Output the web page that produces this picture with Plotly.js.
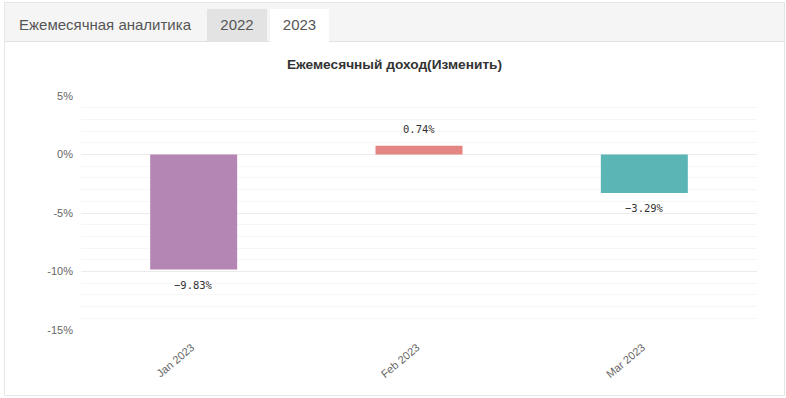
<!DOCTYPE html>
<html><head><meta charset="utf-8">
<script src="https://cdn.plot.ly/plotly-3.0.1.min.js"></script>
<style>
html,body{margin:0;padding:0;background:#fff;width:786px;height:398px;overflow:hidden;font-family:"Liberation Sans",Arial,sans-serif;}
#frame{position:absolute;left:4px;top:2px;width:779px;height:392px;border:1px solid #e6e6e6;}
#tabs{position:absolute;left:0;top:0;width:779px;height:38px;background:#f5f5f5;border-bottom:1px solid #e2e2e2;}
.tab{position:absolute;top:6px;height:32px;line-height:32px;font-size:15px;color:#555;text-align:center;}
#t1{left:2px;width:196px;}
#t2{left:202px;width:60px;background:#e3e3e3;}
#t3{left:265px;width:59px;background:#fff;height:33px;}
#chart{position:absolute;left:1px;top:40px;width:777px;height:351px;}
</style></head>
<body>
<div id="frame">
 <div id="tabs">
  <div class="tab" id="t1">Ежемесячная аналитика</div>
  <div class="tab" id="t2">2022</div>
  <div class="tab" id="t3">2023</div>
 </div>
 <div id="chart"></div>
</div>
<script>
const months = ["Jan 2023", "Feb 2023", "Mar 2023"];
const changes = [-9.83, 0.74, -3.29];
const barColors = ["#b386b3", "#e38582", "#5cb5b5"];
const yTickVals = [5, 0, -5, -10, -15];
const yTickText = ["5%", "0%", "-5%", "-10%", "-15%"];
const chartTitle = "Ежемесячный доход(Изменить)";

function fmt(v) {
  const s = Math.abs(v).toFixed(2) + "%";
  return v < 0 ? "\u2212" + s : s;
}

const labels = months.map((m, i) => ({
  x: m, y: changes[i], xref: "x", yref: "y",
  text: fmt(changes[i]), showarrow: false,
  yshift: changes[i] >= 0 ? 17 : -15,
  font: {family: "DejaVu Sans Mono, monospace", size: 10.5, color: "#333333"}
}));

Plotly.newPlot("chart", [{
  type: "bar",
  x: months,
  y: changes,
  marker: {color: barColors},
  width: 0.386,
  hoverinfo: "none"
}], {
  width: 777, height: 351,
  margin: {l: 75, r: 26, t: 53, b: 64},
  paper_bgcolor: "#ffffff", plot_bgcolor: "#ffffff",
  showlegend: false,
  annotations: labels,
  title: {text: "<b>" + chartTitle + "</b>", x: 0.5, xanchor: "center", y: 1, yref: "paper", yanchor: "bottom", pad: {b: 27},
          font: {family: "Liberation Sans, Arial, sans-serif", size: 13.7, color: "#333333"}},
  xaxis: {type: "category", range: [-0.5, 2.5], tickangle: -40, showgrid: false, zeroline: false, showline: false, ticks: "",
          ticklabelstandoff: 8, ticklabelshift: -2,
          tickfont: {family: "Liberation Sans, Arial, sans-serif", size: 11, color: "#666666"}},
  yaxis: {range: [-15, 5], tickvals: yTickVals, ticktext: yTickText, showgrid: true, gridcolor: "#ebebeb", zeroline: false,
          showline: false, ticks: "", ticklabelstandoff: 7,
          tickfont: {family: "Liberation Sans, Arial, sans-serif", size: 11, color: "#666666"},
          minor: {dtick: 1, showgrid: true, gridcolor: "#f6f6f6", ticks: ""}},
  font: {family: "Liberation Sans, Arial, sans-serif", color: "#666666"}
}, {displayModeBar: false, staticPlot: true});
</script>
</body></html>
